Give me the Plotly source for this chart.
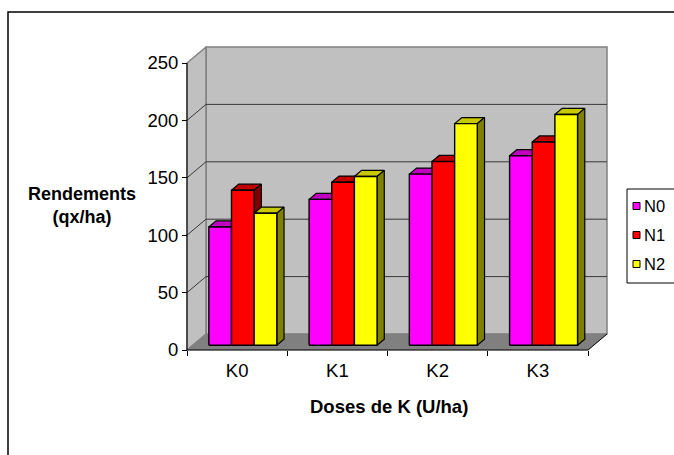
import plotly.graph_objects as go

# ---------------- data ----------------
categories = ["K0", "K1", "K2", "K3"]
series_names = ["N0", "N1", "N2"]
n0_values = [103, 127, 149, 165]
n1_values = [135, 142, 160, 177]
n2_values = [115, 147, 193, 201]
y_ticks = [0, 50, 100, 150, 200, 250]
x_title = "Doses de K (U/ha)"
y_title = "Rendements<br>(qx/ha)"

# ---------------- styling / geometry ----------------
front_colors = ["#FF00FF", "#FF0000", "#FFFF00"]
top_colors = ["#C000C0", "#C00000", "#C8C800"]
side_colors = ["#800080", "#800000", "#808000"]
FONT = "Liberation Sans, Arial, sans-serif"

W, H = 674, 455
KX = 100.25            # px per category
KY = 287.0 / 250.0     # px per value unit
X0PX, Y0PX = 187, 350  # pixel of data origin (front)
DX = 19 / KX           # depth offset in x (data units)
DY = 16 / KY           # depth offset in y (data units)
PADX = 5 / KX
PADY = 5 / KY
NCAT = len(categories)
YMAX = y_ticks[-1]

left_px = X0PX - 5
right_px = X0PX + (NCAT + DX) * KX + 5
bottom_px = Y0PX + 5
top_px = Y0PX - (YMAX + DY) * KY - 5
pw = right_px - left_px
ph = bottom_px - top_px


def xp(px):
    return (px - left_px) / pw


def yp(py):
    return (bottom_px - py) / ph


D0, D1 = 0.3, 0.68     # bar depth extent (fraction of depth)
DD = D1 - D0
BW = 0.226             # bar width in categories

fig = go.Figure()


def poly(xs, ys, fill, line_color, lw, name=""):
    fig.add_trace(go.Scatter(
        x=xs, y=ys, mode="lines", fill="toself", fillcolor=fill,
        line=dict(color=line_color, width=lw), hoverinfo="skip",
        showlegend=False, name=name))


def seg(xs, ys, color, lw):
    fig.add_trace(go.Scatter(
        x=xs, y=ys, mode="lines", line=dict(color=color, width=lw),
        hoverinfo="skip", showlegend=False))


# walls
poly([DX, NCAT + DX, NCAT + DX, DX, DX], [DY, DY, YMAX + DY, YMAX + DY, DY],
     "#C0C0C0", "#808080", 1.5)
poly([0, DX, DX, 0, 0], [0, DY, YMAX + DY, YMAX, 0], "#C0C0C0", "#808080", 1.5)
poly([0, NCAT, NCAT + DX, DX, 0], [0, 0, DY, DY, 0], "#808080", "#808080", 0.5)

# gridlines on back wall + side wall
gx, gy = [], []
for v in y_ticks[1:-1]:
    gx += [0, DX, NCAT + DX, None]
    gy += [v, v + DY, v + DY, None]
seg(gx, gy, "#383838", 1)

# bars
all_values = [n0_values, n1_values, n2_values]
for s, vals in enumerate(all_values):
    tx, ty, sx, sy, fx, fy = [], [], [], [], [], []
    for i, v in enumerate(vals):
        xa = i + 0.5 - 1.5 * BW + s * BW + D0 * DX
        xb = xa + BW
        base = D0 * DY
        top = v + base
        ox, oy = DD * DX, DD * DY
        tx += [xa, xb, xb + ox, xa + ox, xa, None]
        ty += [top, top, top + oy, top + oy, top, None]
        sx += [xb, xb + ox, xb + ox, xb, xb, None]
        sy += [base, base + oy, top + oy, top, base, None]
        fx += [xa, xb, xb, xa, xa, None]
        fy += [base, base, top, top, base, None]
    poly(tx, ty, top_colors[s], "black", 1.2)
    poly(sx, sy, side_colors[s], "black", 1.2)
    poly(fx, fy, front_colors[s], "black", 1.4, series_names[s])

# front axes lines
seg([0, 0], [0, YMAX], "black", 1)
seg([0, NCAT, NCAT + DX], [0, 0, DY], "black", 1)

fig.update_layout(
    width=W, height=H,
    margin=dict(l=left_px, r=W - right_px, t=top_px, b=H - bottom_px, pad=0),
    paper_bgcolor="white", plot_bgcolor="white",
    showlegend=False,
    font=dict(family=FONT, size=18, color="black"),
    xaxis=dict(range=[-PADX, NCAT + DX + PADX], showgrid=False, zeroline=False,
               showline=False, anchor="free", position=yp(Y0PX),
               tickmode="array", tickvals=[i + 0.5 for i in range(NCAT)],
               ticktext=categories, ticks="", ticklabelstandoff=7,
               minor=dict(tickmode="array", tickvals=list(range(NCAT + 1)),
                          ticks="outside", ticklen=5, tickcolor="black",
                          tickwidth=1, showgrid=False),
               tickfont=dict(size=18.5), fixedrange=True),
    yaxis=dict(range=[-PADY, YMAX + DY + PADY], showgrid=False, zeroline=False,
               showline=False, anchor="free", position=xp(X0PX),
               tickmode="array", tickvals=y_ticks, ticks="outside",
               ticklen=5, tickcolor="black", tickwidth=1,
               tickfont=dict(size=18.5), fixedrange=True),
)

# axis titles
fig.add_annotation(text="<b>" + x_title + "</b>", xref="paper", yref="paper",
                   x=xp(389), y=yp(406), showarrow=False,
                   font=dict(size=18.5, family=FONT), xanchor="center", yanchor="middle")
fig.add_annotation(text="<b>" + y_title + "</b>", xref="paper", yref="paper",
                   x=xp(82), y=yp(205), showarrow=False, align="center",
                   font=dict(size=18, family=FONT), xanchor="center", yanchor="middle")

# outer chart border
fig.add_shape(type="rect", xref="paper", yref="paper",
              x0=xp(8), x1=xp(W + 20), y0=yp(H + 20), y1=yp(12),
              line=dict(color="black", width=1.5), fillcolor="rgba(0,0,0,0)")

# legend (manual)
fig.add_shape(type="rect", xref="paper", yref="paper",
              x0=xp(627), x1=xp(W + 20), y0=yp(283), y1=yp(189),
              line=dict(color="black", width=1), fillcolor="white")
leg_y = [206, 235, 264]
for s, name in enumerate(series_names):
    fig.add_shape(type="rect", xref="paper", yref="paper",
                  x0=xp(633), x1=xp(640), y0=yp(leg_y[s] + 3.5), y1=yp(leg_y[s] - 3.5),
                  line=dict(color="black", width=1), fillcolor=front_colors[s])
    fig.add_annotation(text=name, xref="paper", yref="paper",
                       x=xp(642), y=yp(leg_y[s]), showarrow=False,
                       xanchor="left", yanchor="middle",
                       font=dict(size=16.5, family=FONT))

fig.write_html("out.html")
